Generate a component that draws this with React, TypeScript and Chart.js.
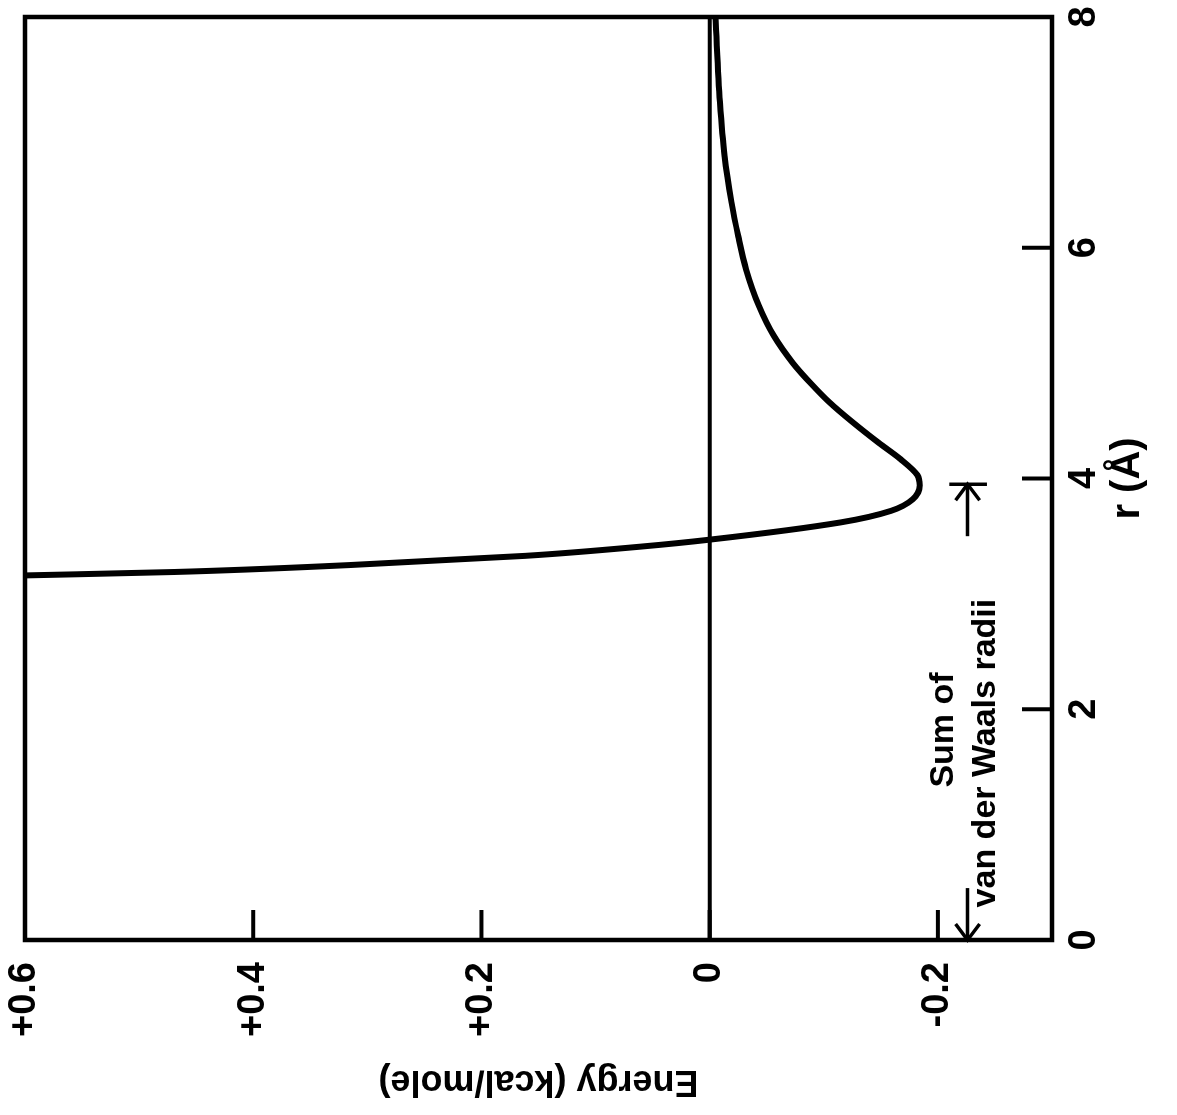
import React, { useEffect, useRef } from "react";
import { Chart, registerables } from "chart.js";

Chart.register(...registerables);

// Lennard-Jones type curve: r (Å) vs energy (kcal/mole)
const rValues = [3.16, 3.19, 3.25, 3.33, 3.41, 3.47, 3.62, 3.72, 3.82, 3.94, 4.03, 4.17, 4.31, 4.49, 4.66, 4.81, 5.0, 5.24, 5.5, 5.81, 6.1, 6.4, 6.8, 7.26, 8.0];
const energyValues = [0.6, 0.468, 0.315, 0.161, 0.06, 0, -0.115, -0.159, -0.178, -0.184, -0.182, -0.167, -0.148, -0.125, -0.105, -0.09, -0.073, -0.056, -0.043, -0.032, -0.025, -0.019, -0.013, -0.009, -0.005];

// zero-energy reference line
const zeroLineR = [0, 8];
const zeroLineE = [0, 0];

// axes
const rTicks = [0, 2, 4, 6, 8];
const rTickLabels = ["0", "2", "4", "6", "8"];
const energyTicks = [0.6, 0.4, 0.2, 0, -0.2];
const energyTickLabels = ["+0.6", "+0.4", "+0.2", "0", "-0.2"];
const rRange = [0, 8];
const energyRange = [-0.3, 0.6];

// annotation: "Sum of van der Waals radii" between r = 0 and r = 3.95
const annotationLines = ["Sum of", "van der Waals radii"];
const annotationR = [1.82, 1.62];
const annotationE = [-0.205, -0.242];
const arrowLeftR = [0.45, 0];
const arrowRightR = [3.5, 3.95];
const arrowE = -0.226;
const barE = [-0.21, -0.243];

const FONT = "'Liberation Sans', Arial, sans-serif";

const overlay = {
  id: "overlay",
  afterDatasetsDraw(chart: any) {
    const { ctx, chartArea: a, scales } = chart;
    const x = scales.x;
    const y = scales.y;
    const line = (x1: number, y1: number, x2: number, y2: number) => {
      ctx.beginPath();
      ctx.moveTo(x1, y1);
      ctx.lineTo(x2, y2);
      ctx.stroke();
    };
    ctx.save();
    ctx.strokeStyle = "#000";
    ctx.fillStyle = "#000";
    ctx.lineCap = "butt";
    ctx.lineWidth = 4.5;
    ctx.strokeRect(a.left, a.top, a.right - a.left, a.bottom - a.top);

    ctx.lineWidth = 4;
    energyTicks.forEach((v) => {
      const py = y.getPixelForValue(v);
      line(a.left, py, a.left + 30, py);
    });
    rTicks.forEach((v) => {
      const px = x.getPixelForValue(v);
      line(px, a.bottom, px, a.bottom - 30);
    });

    // arrows
    const ay = y.getPixelForValue(arrowE);
    ctx.lineWidth = 3.5;
    const arrow = (fromR: number, toR: number) => {
      const x1 = x.getPixelForValue(fromR);
      const x2 = x.getPixelForValue(toR);
      line(x1, ay, x2, ay);
      const dir = Math.sign(x2 - x1);
      ctx.beginPath();
      ctx.moveTo(x2 - dir * 16, ay - 12);
      ctx.lineTo(x2, ay);
      ctx.lineTo(x2 - dir * 16, ay + 12);
      ctx.stroke();
    };
    arrow(arrowLeftR[0], arrowLeftR[1]);
    arrow(arrowRightR[0], arrowRightR[1]);
    const bx = x.getPixelForValue(arrowRightR[1]);
    line(bx, y.getPixelForValue(barE[0]), bx, y.getPixelForValue(barE[1]));

    ctx.font = `bold 34px ${FONT}`;
    ctx.textAlign = "center";
    ctx.textBaseline = "middle";
    annotationLines.forEach((t, i) => {
      ctx.fillText(t, x.getPixelForValue(annotationR[i]), y.getPixelForValue(annotationE[i]));
    });
    ctx.restore();
  },
};

export default function App() {
  const canvasRef = useRef<HTMLCanvasElement | null>(null);

  useEffect(() => {
    if (!canvasRef.current) return;
    const chart = new Chart(canvasRef.current, {
      type: "scatter",
      data: {
        datasets: [
          {
            label: "Energy",
            data: rValues.map((r, i) => ({ x: r, y: energyValues[i] })),
            showLine: true,
            borderColor: "#000",
            borderWidth: 6,
            pointRadius: 0,
            cubicInterpolationMode: "monotone",
            fill: false,
          },
          {
            label: "zero",
            data: zeroLineR.map((r, i) => ({ x: r, y: zeroLineE[i] })),
            showLine: true,
            borderColor: "#000",
            borderWidth: 4,
            pointRadius: 0,
            fill: false,
          },
        ],
      },
      options: {
        responsive: false,
        animation: false,
        devicePixelRatio: 1,
        layout: { padding: { top: 25, right: 17, left: 0, bottom: 0 } },
        plugins: {
          legend: { display: false },
          tooltip: { enabled: false },
        },
        scales: {
          x: {
            type: "linear",
            position: "bottom",
            min: rRange[0],
            max: rRange[1],
            grid: { display: false, drawTicks: false },
            border: { display: false },
            afterBuildTicks: (scale: any) => {
              scale.ticks = rTicks.map((v) => ({ value: v }));
            },
            afterFit: (scale: any) => {
              scale.height = 125;
              scale.paddingLeft = 0;
              scale.paddingRight = 0;
            },
            ticks: {
              padding: 10,
              maxRotation: 0,
              minRotation: 0,
              color: "#000",
              font: { family: FONT, size: 38, weight: "bold" },
              callback: (v: any) => {
                const i = rTicks.findIndex((t) => Math.abs(t - Number(v)) < 1e-6);
                return i >= 0 ? rTickLabels[i] : "";
              },
            },
            title: {
              display: true,
              text: "r (Å)",
              color: "#000",
              font: { family: FONT, size: 40, weight: "bold" },
              padding: { top: 0, bottom: 25 },
            },
          },
          y: {
            type: "linear",
            position: "left",
            min: energyRange[0],
            max: energyRange[1],
            grid: { display: false, drawTicks: false },
            border: { display: false },
            afterBuildTicks: (scale: any) => {
              scale.ticks = energyTicks.map((v) => ({ value: v }));
            },
            afterFit: (scale: any) => {
              scale.width = 175;
              scale.paddingTop = 0;
              scale.paddingBottom = 0;
            },
            ticks: {
              padding: 22,
              color: "#000",
              font: { family: FONT, size: 38, weight: "bold" },
              callback: (v: any) => {
                const i = energyTicks.findIndex((t) => Math.abs(t - Number(v)) < 1e-6);
                return i >= 0 ? energyTickLabels[i] : "";
              },
            },
            title: {
              display: true,
              text: "Energy (kcal/mole)",
              color: "#000",
              font: { family: FONT, size: 36, weight: "bold" },
              padding: { top: 12, bottom: 0 },
            },
          },
        },
      } as any,
      plugins: [overlay],
    });
    return () => chart.destroy();
  }, []);

  return (
    <div
      style={{
        position: "fixed",
        left: 0,
        top: 0,
        width: 1177,
        height: 1115,
        overflow: "hidden",
        background: "#fff",
      }}
    >
      <div
        style={{
          position: "absolute",
          left: 0,
          top: 0,
          width: 1115,
          height: 1177,
          transformOrigin: "top left",
          transform: "translateY(1115px) rotate(-90deg)",
        }}
      >
        <canvas ref={canvasRef} width={1115} height={1177} style={{ width: 1115, height: 1177, display: "block" }} />
      </div>
    </div>
  );
}
